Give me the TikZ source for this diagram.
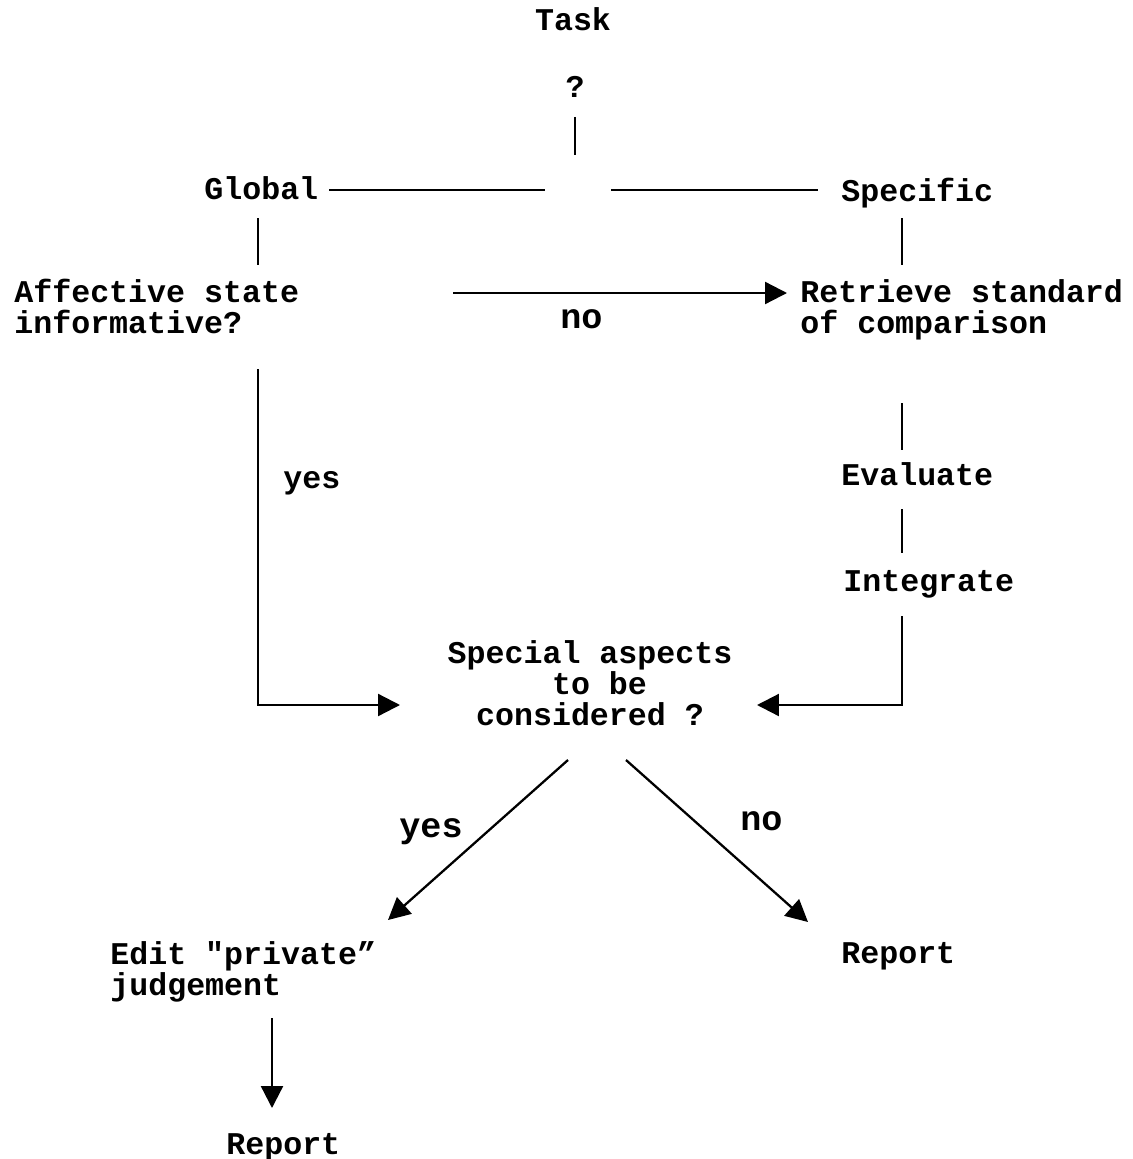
\documentclass[tikz,border=0pt]{standalone}
\usepackage{fontspec}
\setmainfont{Liberation Mono}[Ligatures=TeXOff]
\usetikzlibrary{arrows.meta}
\tikzset{
  lbl/.style={inner sep=0pt, anchor=base west, font=\fontsize{18pt}{17.6pt}\selectfont\bfseries},
  lblbig/.style={lbl, font=\fontsize{20pt}{20pt}\selectfont\bfseries},
  thinln/.style={line width=1.1pt},
  thickln/.style={line width=1.4pt},
  arr/.style={line width=1.3pt, -{Triangle[length=12.5pt,width=12.5pt]}},
}

\begin{document}
\begin{tikzpicture}[x=0.02cm, y=-0.02cm]
			%%%%% START %%%%%
			\useasboundingbox (0, 0) rectangle (1132, 1159);
			
			\node[lbl, anchor=base] (task) at (573, 31) {Task};
			\node[lbl, anchor=base] (quest) at (575, 97) {?};
			\node[lbl] (global) at (204, 199) {Global};
			\node[lbl] (specific) at (841, 201) {Specific};
			\node[lbl, align=left] (affect) at (14, 333) {Affective state\\informative?};
			\node[lblbig] (no1) at (560, 328) {no};
			\node[lbl, align=left] (retrieve) at (800, 333) {Retrieve standard\\of comparison};
			\node[lbl] (yes1) at (283, 488) {yes};
			\node[lbl] (evaluate) at (841, 485) {Evaluate};
			\node[lbl] (integrate) at (843, 591) {Integrate};
			\node[lbl, align=center, anchor=base] (special) at (590, 725) {Special aspects\\\mbox{}\ to be\\considered ?};
			\node[lblbig] (yes2) at (399, 837) {yes};
			\node[lblbig] (no2) at (740, 830) {no};
			\node[lbl, align=left] (edit) at (110, 995) {Edit "private”\\judgement};
			\node[lbl] (report1) at (841, 963) {Report};
			\node[lbl] (report2) at (226, 1154) {Report};
			
			\coordinate (quest-s) at (575, 117);
			\coordinate (split-n) at (575, 155);
			\coordinate (global-e) at (329, 190);
			\coordinate (split-w) at (545, 190);
			\coordinate (split-e) at (611, 190);
			\coordinate (specific-w) at (818, 190);
			\coordinate (global-s) at (258, 218);
			\coordinate (affect-n) at (258, 265);
			\coordinate (specific-s) at (902, 218);
			\coordinate (retrieve-n) at (902, 265);
			\coordinate (affect-e) at (453, 293);
			\coordinate (retrieve-w) at (787, 293);
			\coordinate (retrieve-s) at (902, 403);
			\coordinate (evaluate-n) at (902, 450);
			\coordinate (evaluate-s) at (902, 509);
			\coordinate (integrate-n) at (902, 553);
			\coordinate (integrate-s) at (902, 616);
			\coordinate (special-e) at (757, 705);
			\coordinate (affect-s) at (258, 369);
			\coordinate (special-w) at (400, 705);
			\coordinate (special-sw) at (568, 760);
			\coordinate (edit-ne) at (388, 920);
			\coordinate (special-se) at (626, 760);
			\coordinate (report1-nw) at (808, 922);
			\coordinate (edit-s) at (272, 1018);
			\coordinate (report2-n) at (272, 1108);
			
			\draw[thinln] (quest-s) -- (split-n);
			\draw[thickln] (global-e) -- (split-w);
			\draw[thickln] (split-e) -- (specific-w);
			\draw[thinln] (global-s) -- (affect-n);
			\draw[thinln] (specific-s) -- (retrieve-n);
			\draw[arr] (affect-e) -- (retrieve-w);
			\draw[thinln] (retrieve-s) -- (evaluate-n);
			\draw[thinln] (evaluate-s) -- (integrate-n);
			\draw[arr] (integrate-s) |- (special-e);
			\draw[arr] (affect-s) |- (special-w);
			\draw[arr] (special-sw) -- (edit-ne);
			\draw[arr] (special-se) -- (report1-nw);
			\draw[arr] (edit-s) -- (report2-n);
			
			%%%%% END %%%%%
\end{tikzpicture}
\end{document}
